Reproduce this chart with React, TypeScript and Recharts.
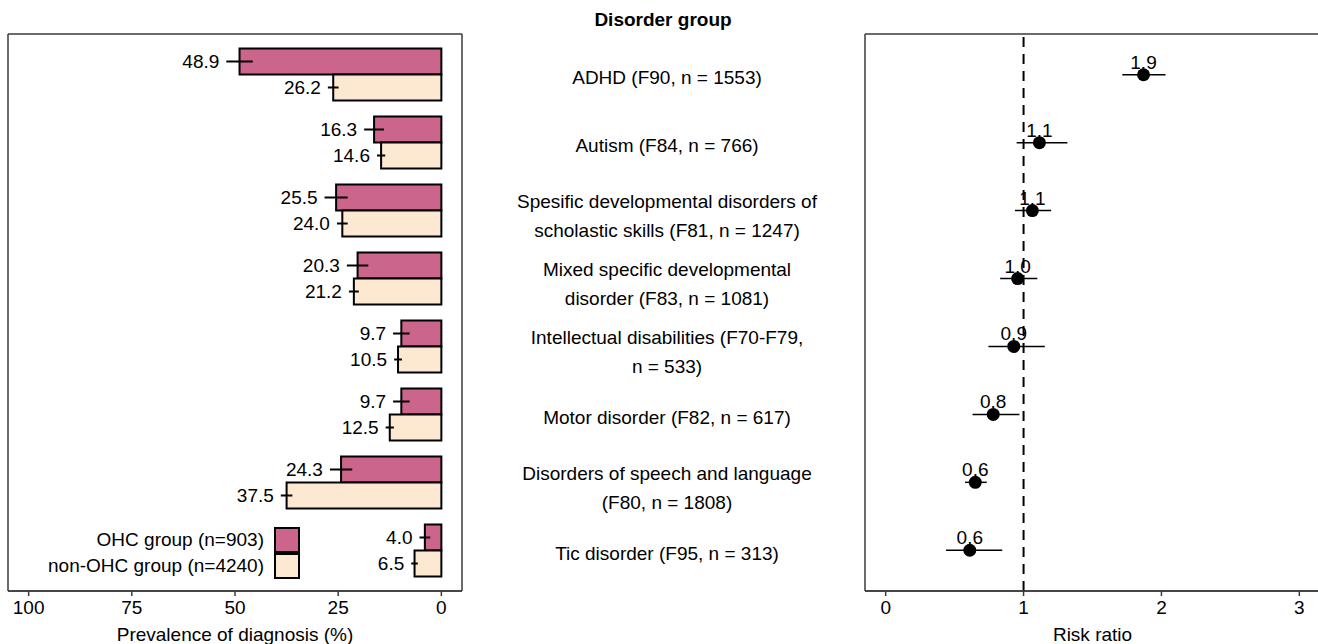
import {
  BarChart,
  Bar,
  ScatterChart,
  Scatter,
  XAxis,
  YAxis,
  ErrorBar,
  LabelList,
  Legend,
  CartesianGrid,
  ReferenceLine,
} from 'recharts'

const FONT = '"Liberation Sans", Arial, Helvetica, sans-serif'
const PINK = '#cc658c'
const CREAM = '#fde8d2'
const AXIS = '#3a3a3a'

// disorder groups, top to bottom ("\n" = line break in the middle column)
const disorders = [
  'ADHD (F90, n = 1553)',
  'Autism (F84, n = 766)',
  'Spesific developmental disorders of\nscholastic skills (F81, n = 1247)',
  'Mixed specific developmental\ndisorder (F83, n = 1081)',
  'Intellectual disabilities (F70-F79,\nn = 533)',
  'Motor disorder (F82, n = 617)',
  'Disorders of speech and language\n(F80, n = 1808)',
  'Tic disorder (F95, n = 313)',
]

// prevalence (%) and half-width of the 95% CI
const ohcPrevalence = [48.9, 16.3, 25.5, 20.3, 9.7, 9.7, 24.3, 4.0]
const ohcCi = [3.2, 2.4, 2.8, 2.6, 2.0, 2.0, 2.7, 1.3]
const nonOhcPrevalence = [26.2, 14.6, 24.0, 21.2, 10.5, 12.5, 37.5, 6.5]
const nonOhcCi = [1.3, 1.0, 1.3, 1.2, 0.95, 1.0, 1.4, 0.8]

// risk ratio with CI bounds
const riskRatio = [1.87, 1.115, 1.064, 0.957, 0.929, 0.78, 0.65, 0.61]
const rrLower = [1.716, 0.95, 0.938, 0.83, 0.745, 0.63, 0.576, 0.438]
const rrUpper = [2.03, 1.318, 1.2, 1.1, 1.154, 0.97, 0.733, 0.845]
const rrLabels = ['1.9', '1.1', '1.1', '1.0', '0.9', '0.8', '0.6', '0.6']

const prevTicks = [0, 25, 50, 75, 100]
const rrTicks = [0, 1, 2, 3]

const barData = disorders.map((name, i) => ({
  name,
  ohc: ohcPrevalence[i],
  ohcErr: ohcCi[i],
  nonOhc: nonOhcPrevalence[i],
  nonOhcErr: nonOhcCi[i],
}))

const rrData = disorders.map((name, i) => ({
  name,
  pos: i + 1,
  rr: riskRatio[i],
  err: [riskRatio[i] - rrLower[i], rrUpper[i] - riskRatio[i]],
  label: rrLabels[i],
}))

const textStyle = { fill: '#000', fontSize: 19, fontFamily: FONT }

// draw the panel border along the plot edges
const borderH = ({ offset }: any) => [offset.top, offset.top + offset.height]
const borderV = ({ offset }: any) => [offset.left, offset.left + offset.width]

function PrevLabel(props: any) {
  const vb = props.viewBox ?? props
  const { index, errs, values } = props
  const left = Math.min(vb.x, vb.x + vb.width)
  const w = Math.abs(vb.width)
  const pxPerUnit = w / values[index]
  const ciEnd = left - errs[index] * pxPerUnit
  return (
    <text
      x={ciEnd - 7}
      y={vb.y + vb.height / 2}
      textAnchor="end"
      dominantBaseline="central"
      {...textStyle}
    >
      {values[index].toFixed(1)}
    </text>
  )
}

function DisorderTick({ x, y, payload }: any) {
  const lines = String(payload.value).split('\n')
  const cx = x + 197
  const shift = lines.length > 1 ? 5 : 2
  const start = y + shift - ((lines.length - 1) * 28.5) / 2
  return (
    <text x={cx} textAnchor="middle" dominantBaseline="central" {...textStyle}>
      {lines.map((l, i) => (
        <tspan key={i} x={cx} y={start + i * 28.5}>
          {l}
        </tspan>
      ))}
    </text>
  )
}

function LegendBox({ payload }: any) {
  return (
    <div
      style={{
        display: 'flex',
        flexDirection: 'column',
        alignItems: 'flex-end',
        fontFamily: FONT,
        fontSize: 19,
        color: '#000',
      }}
    >
      {(payload ?? []).map((e: any) => (
        <div key={e.value} style={{ display: 'flex', alignItems: 'center', height: 26 }}>
          <span style={{ marginRight: 10 }}>{e.value}</span>
          <span
            style={{
              width: 22,
              height: 22,
              background: e.payload?.fill ?? e.color,
              border: '2px solid #000',
            }}
          />
        </div>
      ))}
    </div>
  )
}

function RrDot({ cx, cy, payload }: any) {
  return (
    <g>
      <circle cx={cx} cy={cy} r={6.5} fill="#000" />
      <text x={cx} y={cy - 6} textAnchor="middle" {...textStyle}>
        {payload.label}
      </text>
    </g>
  )
}

export default function App() {
  return (
    <div style={{ position: 'relative', width: 1318, height: 644, overflow: 'hidden', background: '#fff' }}>
      <style>{'body{margin:0}'}</style>
      <div
        style={{
          position: 'absolute',
          left: 563,
          top: 8,
          width: 200,
          textAlign: 'center',
          fontFamily: FONT,
          fontSize: 19,
          fontWeight: 'bold',
          lineHeight: '24px',
        }}
      >
        Disorder group
      </div>

      <div style={{ position: 'absolute', left: 0, top: 0 }}>
        <BarChart
          width={860}
          height={644}
          layout="vertical"
          data={barData}
          margin={{ top: 34, right: 0, bottom: 3, left: 8 }}
          barSize={26}
          barGap={0}
        >
          <CartesianGrid
            stroke={AXIS}
            strokeWidth={1.5}
            horizontalCoordinatesGenerator={borderH}
            verticalCoordinatesGenerator={borderV}
          />
          <XAxis
            type="number"
            domain={[-5, 105]}
            reversed
            ticks={prevTicks}
            allowDataOverflow
            height={50}
            tickSize={5}
            tickMargin={5}
            tick={textStyle}
            axisLine={{ stroke: AXIS, strokeWidth: 1.5 }}
            tickLine={{ stroke: AXIS, strokeWidth: 1.5 }}
            label={{ value: 'Prevalence of diagnosis (%)', position: 'insideBottom', offset: 0, ...textStyle }}
          />
          <YAxis
            type="category"
            dataKey="name"
            orientation="right"
            width={398}
            axisLine={false}
            tickLine={false}
            interval={0}
            padding={{ top: 6.5, bottom: 6.5 }}
            tick={<DisorderTick />}
          />
          <Bar dataKey="ohc" name="OHC group (n=903)" fill={PINK} stroke="#000" strokeWidth={2} isAnimationActive={false}>
            <ErrorBar dataKey="ohcErr" direction="x" width={0} stroke="#000" strokeWidth={2} />
            <LabelList content={(p: any) => <PrevLabel {...p} errs={ohcCi} values={ohcPrevalence} />} />
          </Bar>
          <Bar dataKey="nonOhc" name="non-OHC group (n=4240)" fill={CREAM} stroke="#000" strokeWidth={2} isAnimationActive={false}>
            <ErrorBar dataKey="nonOhcErr" direction="x" width={0} stroke="#000" strokeWidth={2} />
            <LabelList content={(p: any) => <PrevLabel {...p} errs={nonOhcCi} values={nonOhcPrevalence} />} />
          </Bar>
          <Legend
            layout="vertical"
            align="center"
            verticalAlign="middle"
            wrapperStyle={{ left: 0, top: 527, width: 300 }}
            content={<LegendBox />}
          />
        </BarChart>
      </div>

      <div style={{ position: 'absolute', left: 860, top: 0 }}>
        <ScatterChart width={470} height={644} margin={{ top: 34, right: 10, bottom: 3, left: 5 }}>
          <CartesianGrid
            stroke={AXIS}
            strokeWidth={1.5}
            horizontalCoordinatesGenerator={borderH}
            verticalCoordinatesGenerator={borderV}
          />
          <XAxis
            type="number"
            dataKey="rr"
            domain={[-0.15, 3.15]}
            ticks={rrTicks}
            allowDataOverflow
            height={50}
            tickSize={5}
            tickMargin={5}
            tick={textStyle}
            axisLine={{ stroke: AXIS, strokeWidth: 1.5 }}
            tickLine={{ stroke: AXIS, strokeWidth: 1.5 }}
            label={{ value: 'Risk ratio', position: 'insideBottom', offset: 0, ...textStyle }}
          />
          <YAxis type="number" dataKey="pos" domain={[0.4, 8.6]} reversed hide />
          <ReferenceLine x={1} stroke="#000" strokeWidth={2} strokeDasharray="10 7" />
          <Scatter data={rrData} shape={<RrDot />} isAnimationActive={false}>
            <ErrorBar dataKey="err" direction="x" width={0} stroke="#000" strokeWidth={1.5} />
          </Scatter>
        </ScatterChart>
      </div>
    </div>
  )
}
